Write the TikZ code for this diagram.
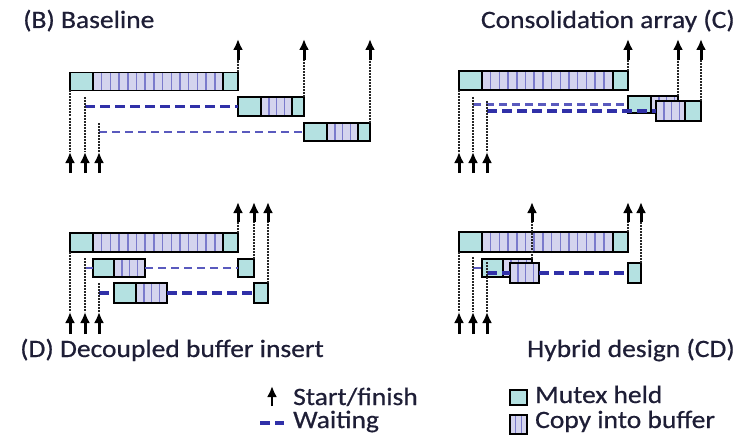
\documentclass[tikz,border=0pt]{standalone}
\usepackage{fontspec}
\setmainfont{Carlito}[FakeStretch=1.1,FakeBold=0.6]
\usetikzlibrary{arrows.meta,positioning}
\definecolor{mutexc}{HTML}{B4E1E1}
\definecolor{copyc}{HTML}{D4D4EE}
\definecolor{stripec}{HTML}{7A7ACC}
\definecolor{waitc}{HTML}{3030A8}
\definecolor{waitl}{HTML}{5A5ABE}
\definecolor{textc}{HTML}{1E1E36}

\begin{document}
\begin{tikzpicture}[
    x=1pt, y=-1pt,
    seg/.style={draw=black, line width=1.9pt, inner sep=0pt, outer sep=0pt, minimum height=18pt},
    mtx/.style={seg, fill=mutexc},
    cpy/.style={seg, fill=copyc, path picture={
        \foreach \k in {1,...,16}
          \draw[stripec, line width=1.5pt] ([xshift=\k*#1pt]path picture bounding box.north west) -- ([xshift=\k*#1pt]path picture bounding box.south west);}},
    cpy/.default=8.7,
    thr/.style={black!85, line width=2.2pt, dash pattern=on 2pt off 1pt},
    arr/.style={-{Latex[length=11pt,width=10pt]}, line width=3pt, black},
    waitk/.style={waitc, line width=3.6pt, dash pattern=on 10pt off 5pt},
    waitt/.style={waitl, line width=2.2pt, dash pattern=on 8pt off 5pt},
    ttl/.style={font=\fontsize{25}{30}\selectfont, text=textc, inner sep=0pt}
]
\useasboundingbox (0,0) rectangle (753,436);

% rows of arrow ends
\coordinate (topup) at (0,60);  \coordinate (toptip) at (0,39);
\coordinate (topdn) at (0,152); \coordinate (topfoot) at (0,173);
\coordinate (botup) at (0,222); \coordinate (bottip) at (0,202);
\coordinate (botdn) at (0,312); \coordinate (botfoot) at (0,334);

% --- Baseline ---
\node[ttl, anchor=base west] (tb) at (23,28) {(B) Baseline};
\node[mtx, minimum width=23pt, anchor=west] (b1a) at (70,81.5) {};
\node[cpy, minimum width=130pt, right=0pt of b1a] (b1b) {};
\node[mtx, minimum width=15pt, right=0pt of b1b] (b1c) {};
\node[mtx, minimum width=23pt, minimum height=19pt, anchor=west] (b2a) at (238,106.5) {};
\node[cpy=7.8, minimum width=31pt, minimum height=19pt, right=0pt of b2a] (b2b) {};
\node[mtx, minimum width=12pt, minimum height=19pt, right=0pt of b2b] (b2c) {};
\node[mtx, minimum width=23pt, anchor=west] (b3a) at (304,132) {};
\node[cpy=7.8, minimum width=31pt, right=0pt of b3a] (b3b) {};
\node[mtx, minimum width=12pt, right=0pt of b3b] (b3c) {};
\coordinate (bth2) at (85,97);
\coordinate (bth3) at (99,123);
\draw[waitk] (bth2 |- b2a.west) -- (b2a.west);
\draw[waitt] (bth3 |- b3a.west) -- (b3a.west);
\foreach \p in {b1a.south west, bth2, bth3} {
  \draw[thr] (\p) -- (\p |- topdn);
  \draw[arr] (\p |- topfoot) -- (\p |- topdn);
}
\foreach \p in {b1c.north east, b2c.north east, b3c.north east} {
  \draw[thr] (\p) -- (\p |- topup);
  \draw[arr] (\p |- topup) -- (\p |- toptip);
}

% --- Consolidation array ---
\node[ttl, anchor=base east] (tc) at (735,28) {Consolidation array (C)};
\node[mtx, minimum width=23pt, minimum height=19pt, anchor=west] (c1a) at (459,80.5) {};
\node[cpy, minimum width=131pt, minimum height=19pt, right=0pt of c1a] (c1b) {};
\node[mtx, minimum width=15pt, minimum height=19pt, right=0pt of c1b] (c1c) {};
\node[mtx, minimum width=23pt, minimum height=17pt, anchor=west] (c2a) at (628,104.5) {};
\node[cpy=7.8, minimum width=27pt, minimum height=17pt, right=0pt of c2a] (c2b) {};
\node[cpy=7.8, minimum width=29pt, minimum height=20pt, anchor=west] (c3a) at (656,111) {};
\node[mtx, minimum width=16pt, minimum height=20pt, right=0pt of c3a] (c3b) {};
\coordinate (cth2) at (473,97);
\coordinate (cth3) at (487,101);
\draw[waitt] (cth2 |- c2a.west) -- (c2a.west);
\draw[waitk] (cth3 |- c3a.west) -- (c3a.west);
\foreach \p in {c1a.south west, cth2, cth3} {
  \draw[thr] (\p) -- (\p |- topdn);
  \draw[arr] (\p |- topfoot) -- (\p |- topdn);
}
\foreach \p in {c1c.north east, c2b.north east, c3b.north east} {
  \draw[thr] (\p) -- (\p |- topup);
  \draw[arr] (\p |- topup) -- (\p |- toptip);
}

% --- Decoupled buffer insert ---
\node[ttl, anchor=base west] (td) at (20,357) {(D) Decoupled buffer insert};
\node[mtx, minimum width=23pt, minimum height=19pt, anchor=west] (d1a) at (70,242.5) {};
\node[cpy, minimum width=130pt, minimum height=19pt, right=0pt of d1a] (d1b) {};
\node[mtx, minimum width=15pt, minimum height=19pt, right=0pt of d1b] (d1c) {};
\node[mtx, minimum width=21pt, anchor=west] (d2a) at (93,268) {};
\node[cpy=7.8, minimum width=31pt, right=0pt of d2a] (d2b) {};
\node[mtx, minimum width=16pt, anchor=west] (d2c) at (238,268) {};
\node[mtx, minimum width=22pt, minimum height=20pt, anchor=west] (d3a) at (114,293) {};
\node[cpy=7.8, minimum width=31pt, minimum height=20pt, right=0pt of d3a] (d3b) {};
\node[mtx, minimum width=14pt, minimum height=20pt, anchor=west] (d3c) at (254,293) {};
\coordinate (dth2) at (85,258);
\coordinate (dth3) at (99,283);
\draw[waitt] (dth2 |- d2a.west) -- (d2a.west);
\draw[waitt] (d2b.east) -- (d2c.west);
\draw[waitk] (dth3 |- d3a.west) -- (d3a.west);
\draw[waitk] (d3b.east) -- (d3c.west);
\foreach \p in {d1a.south west, dth2, dth3} {
  \draw[thr] (\p) -- (\p |- botdn);
  \draw[arr] (\p |- botfoot) -- (\p |- botdn);
}
\foreach \p in {d1c.north east, d2c.north east, d3c.north east} {
  \draw[thr] (\p) -- (\p |- botup);
  \draw[arr] (\p |- botup) -- (\p |- bottip);
}

% --- Hybrid design ---
\node[ttl, anchor=base east] (te) at (735,357) {Hybrid design (CD)};
\node[mtx, minimum width=23pt, minimum height=20pt, anchor=west] (e1a) at (459,242) {};
\node[cpy, minimum width=131pt, minimum height=20pt, right=0pt of e1a] (e1b) {};
\node[mtx, minimum width=15pt, minimum height=20pt, right=0pt of e1b] (e1c) {};
\node[mtx, minimum width=21pt, anchor=west] (e2a) at (482,268) {};
\node[cpy=7.8, minimum width=29pt, right=0pt of e2a] (e2b) {};
\node[cpy=7.8, minimum width=29pt, minimum height=20pt, anchor=west] (e3) at (510,273) {};
\node[mtx, minimum width=13pt, minimum height=20pt, anchor=west] (e4) at (628,273) {};
\coordinate (eth2) at (473,257);
\coordinate (eth3) at (487,262);
\draw[waitt] (eth2 |- e2a.west) -- (e2a.west);
\draw[waitk] (eth3 |- e3.west) -- (e3.west);
\draw[waitk] (e3.east) -- (e4.west);
\foreach \p in {e1a.south west, eth2, eth3} {
  \draw[thr] (\p) -- (\p |- botdn);
  \draw[arr] (\p |- botfoot) -- (\p |- botdn);
}
\foreach \p in {e2b.north east, e1c.north east, e4.north east} {
  \draw[thr] (\p) -- (\p |- botup);
  \draw[arr] (\p |- botup) -- (\p |- bottip);
}

% --- legend ---
\coordinate (lga) at (272,406);
\coordinate (lgb) at (272,386);
\draw[arr, line width=2.4pt] (lga) -- (lgb);
\node[ttl, anchor=base west] (lsf) at (293,405) {Start/finish};
\coordinate (lgw) at (260,423);
\coordinate (lgw2) at (284,423);
\draw[waitk] (lgw) -- (lgw2);
\node[ttl, anchor=base west] (lwt) at (293,428) {Waiting};
\node[mtx, minimum width=17pt, minimum height=15pt] (lgm) at (518.5,397.5) {};
\node[cpy=5.7, minimum width=17pt, minimum height=19pt] (lgc) at (518.5,424.5) {};
\node[ttl, anchor=base west] (lmh) at (535,403) {Mutex held};
\node[ttl, anchor=base west] (lcb) at (535,428) {Copy into buffer};
\end{tikzpicture}
\end{document}
